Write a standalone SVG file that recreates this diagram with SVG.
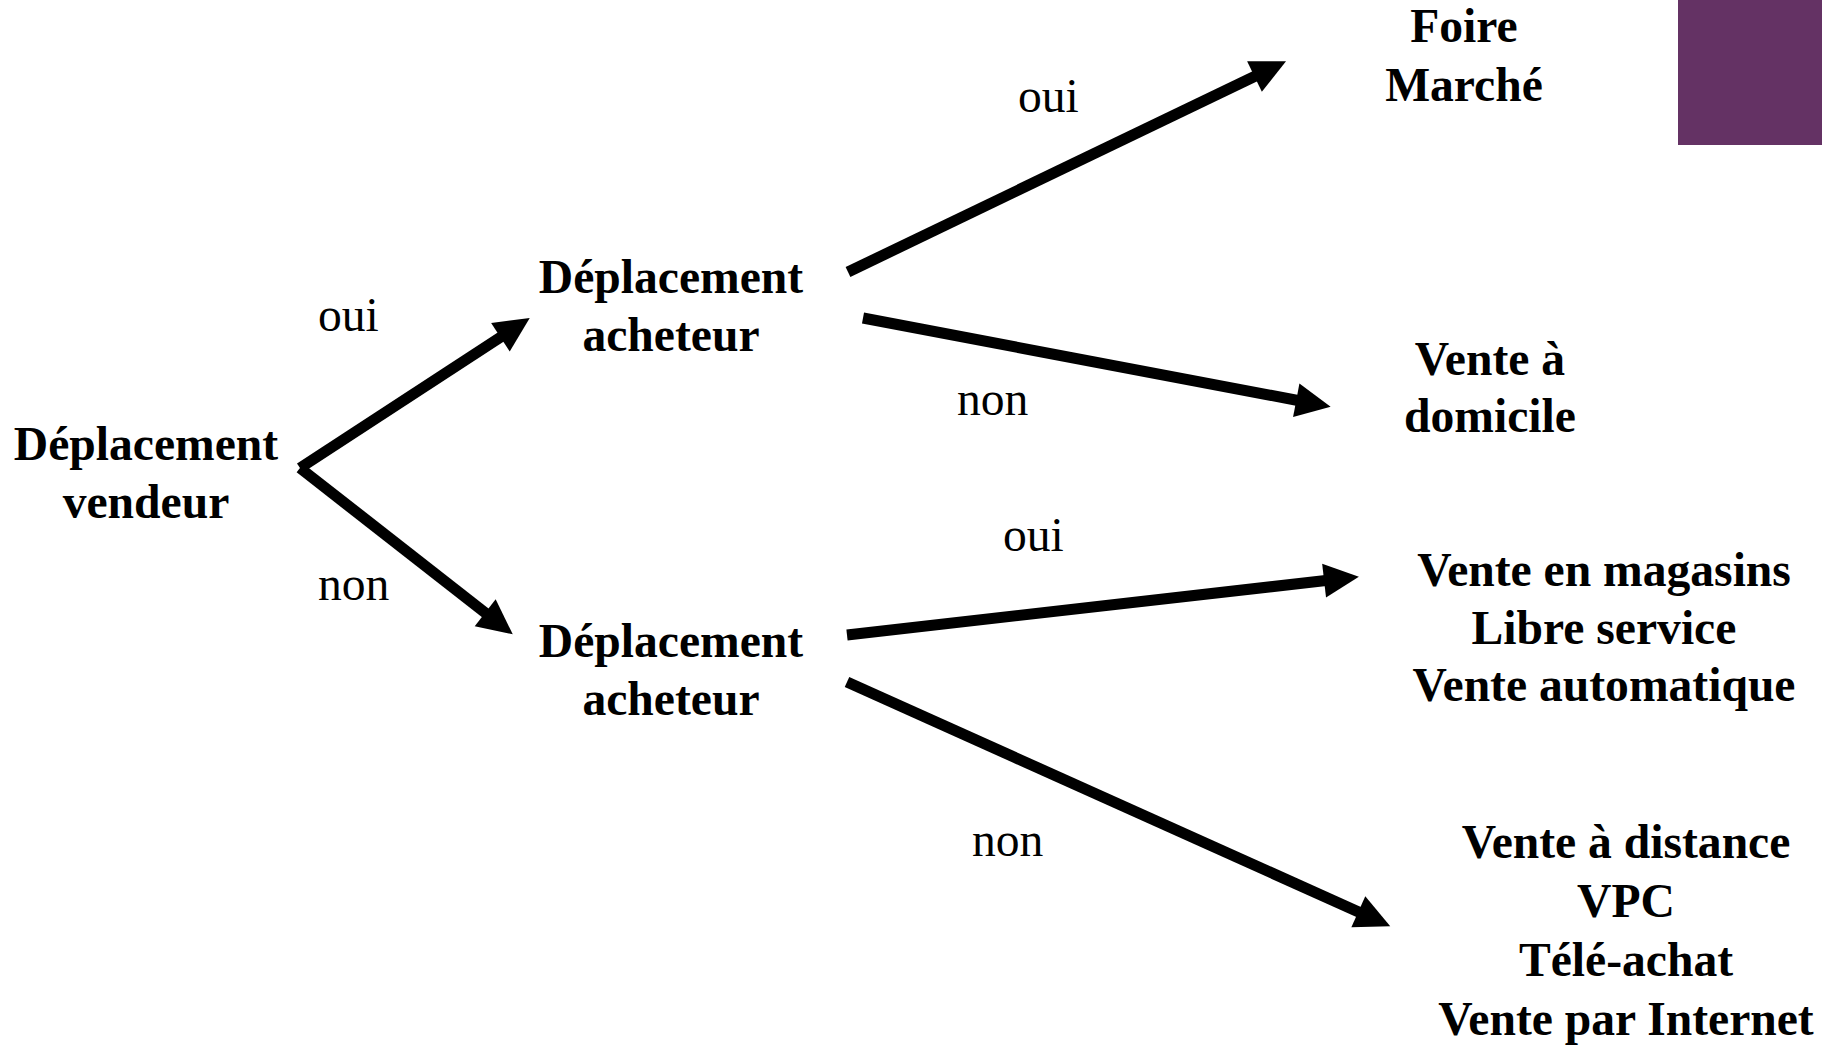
<svg xmlns="http://www.w3.org/2000/svg" width="1835" height="1045" viewBox="0 0 1835 1045">
  <style>
    .node { font-family: "Liberation Serif", "Times New Roman", serif; font-weight: bold; font-size: 47.6px; fill: #000; text-anchor: middle; }
    .lbl { font-family: "Liberation Serif", "Times New Roman", serif; font-size: 47.6px; fill: #000; }
    .edge { stroke: #000; stroke-width: 11; fill: none; marker-end: url(#arrow); }
  </style>
  <defs>
    <marker id="arrow" markerUnits="userSpaceOnUse" markerWidth="36" markerHeight="36" refX="15" refY="17" orient="auto" overflow="visible">
      <path d="M0,0 L35,17 L0,34 z" fill="#000"/>
    </marker>
  </defs>
  <rect width="1835" height="1045" fill="#fff"/>
  <g id="accent">
    <rect x="1678" y="0" width="144" height="145" fill="#643264"/>
  </g>
  <g id="connectors">
    <line class="edge" x1="300" y1="468" x2="513" y2="329"/>
    <line class="edge" x1="300" y1="468" x2="497" y2="622"/>
    <line class="edge" x1="848" y1="272" x2="1268" y2="70"/>
    <line class="edge" x1="863" y1="318" x2="1311" y2="403"/>
    <line class="edge" x1="847" y1="635" x2="1339" y2="579"/>
    <line class="edge" x1="847" y1="682" x2="1372" y2="918"/>
    <text class="lbl" x="318" y="331">oui</text>
    <text class="lbl" x="318" y="600">non</text>
    <text class="lbl" x="1018" y="112">oui</text>
    <text class="lbl" x="957" y="415">non</text>
    <text class="lbl" x="1003" y="551">oui</text>
    <text class="lbl" x="972" y="856">non</text>
  </g>
  <g id="n_vendeur">
    <text class="node" x="146" y="460">Déplacement</text>
    <text class="node" x="146" y="518">vendeur</text>
  </g>
  <g id="n_acheteur_1">
    <text class="node" x="671" y="293">Déplacement</text>
    <text class="node" x="671" y="351">acheteur</text>
  </g>
  <g id="n_acheteur_2">
    <text class="node" x="671" y="657">Déplacement</text>
    <text class="node" x="671" y="715">acheteur</text>
  </g>
  <g id="n_foire">
    <text class="node" x="1464" y="42">Foire</text>
    <text class="node" x="1464" y="101">Marché</text>
  </g>
  <g id="n_domicile">
    <text class="node" x="1490" y="375">Vente à</text>
    <text class="node" x="1490" y="432">domicile</text>
  </g>
  <g id="n_magasins">
    <text class="node" x="1604" y="586">Vente en magasins</text>
    <text class="node" x="1604" y="644">Libre service</text>
    <text class="node" x="1604" y="701">Vente automatique</text>
  </g>
  <g id="n_distance">
    <text class="node" x="1626" y="858">Vente à distance</text>
    <text class="node" x="1626" y="917">VPC</text>
    <text class="node" x="1626" y="976">Télé-achat</text>
    <text class="node" x="1626" y="1035">Vente par Internet</text>
  </g>
</svg>
